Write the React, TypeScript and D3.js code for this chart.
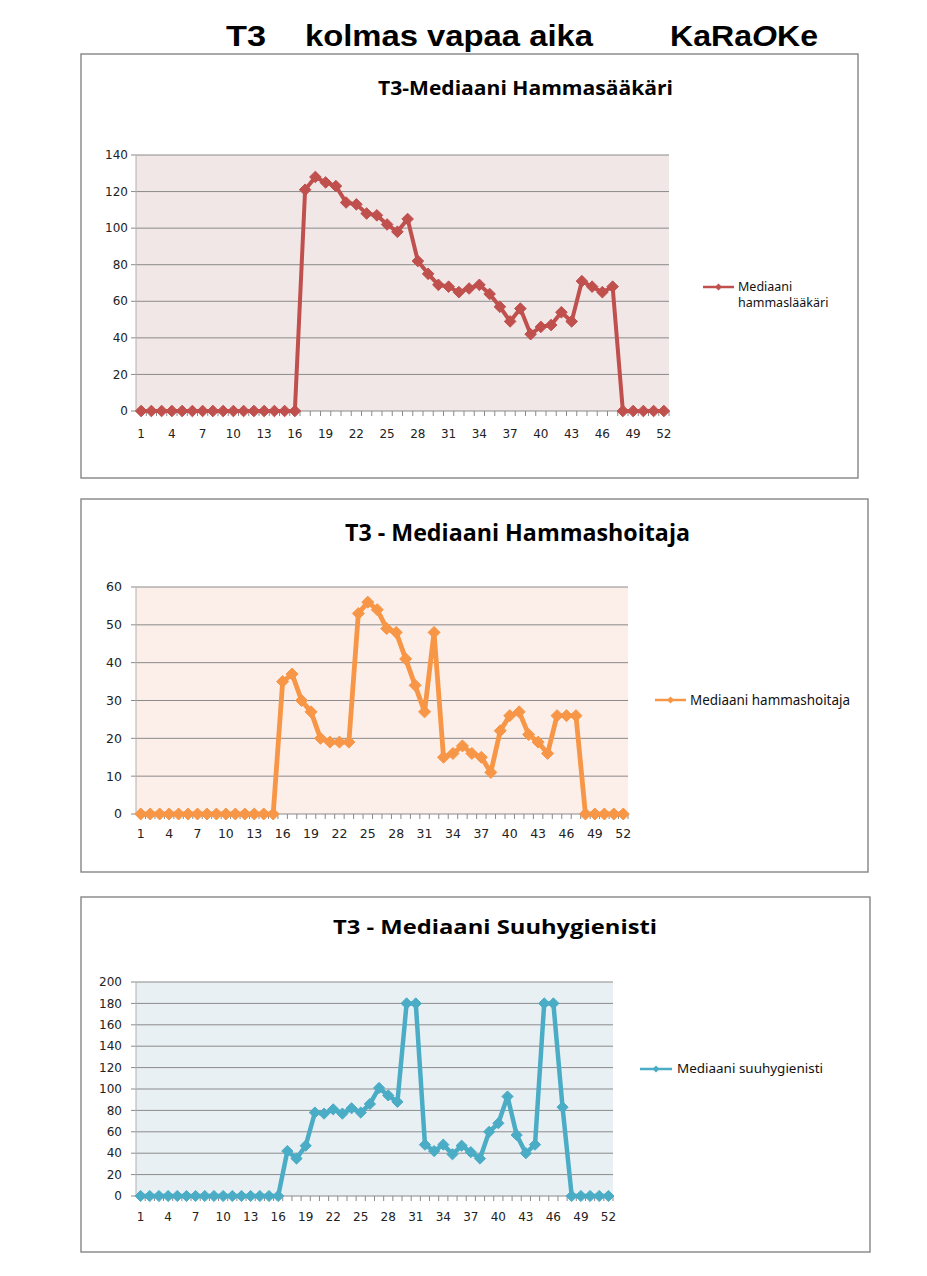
import React from "react";
import * as d3 from "d3";

const WEEKS = [
  1, 2, 3, 4, 5, 6, 7, 8, 9, 10, 11, 12, 13, 14, 15, 16, 17, 18, 19, 20, 21, 22, 23, 24, 25, 26,
  27, 28, 29, 30, 31, 32, 33, 34, 35, 36, 37, 38, 39, 40, 41, 42, 43, 44, 45, 46, 47, 48, 49, 50, 51, 52,
];
const X_TICK_LABELS = [1, 4, 7, 10, 13, 16, 19, 22, 25, 28, 31, 34, 37, 40, 43, 46, 49, 52];

const HAMMASLAAKARI = [
  0, 0, 0, 0, 0, 0, 0, 0, 0, 0, 0, 0, 0, 0, 0, 0,
  121, 128, 125, 123, 114, 113, 108, 107, 102, 98, 105, 82, 75, 69, 68, 65, 67, 69, 64, 57, 49, 56,
  42, 46, 47, 54, 49, 71, 68, 65, 68,
  0, 0, 0, 0, 0,
];
const HAMMASHOITAJA = [
  0, 0, 0, 0, 0, 0, 0, 0, 0, 0, 0, 0, 0, 0, 0,
  35, 37, 30, 27, 20, 19, 19, 19, 53, 56, 54, 49, 48, 41, 34, 27, 48, 15, 16, 18, 16, 15, 11, 22,
  26, 27, 21, 19, 16, 26, 26, 26,
  0, 0, 0, 0, 0,
];
const SUUHYGIENISTI = [
  0, 0, 0, 0, 0, 0, 0, 0, 0, 0, 0, 0, 0, 0, 0, 0,
  42, 35, 47, 78, 77, 81, 77, 82, 78, 86, 101, 94, 88, 180, 180, 48, 42, 48, 39, 47, 41, 35, 60, 68,
  93, 57, 40, 48, 180, 180, 83,
  0, 0, 0, 0, 0,
];

const Y_TICKS_1 = [0, 20, 40, 60, 80, 100, 120, 140];
const Y_TICKS_2 = [0, 10, 20, 30, 40, 50, 60];
const Y_TICKS_3 = [0, 20, 40, 60, 80, 100, 120, 140, 160, 180, 200];

type ChartProps = {
  frame: [number, number, number, number];
  plot: [number, number, number, number];
  values: number[];
  yTicks: number[];
  color: string;
  bg: string;
  title: string;
  titleX: [number, number];
  titleY: number;
  titleSize: number;
  legendLines: string[];
  legendLine: [number, number, number];
  legendTextX: number;
  legendTextY: number;
  legendSize: number;
  legendLen: number;
  tickSize: number;
  yLabelX: number;
  xLabelY: number;
  strokeW: number;
  markerR: number;
};

function Chart(p: ChartProps) {
  const [fx, fy, fw, fh] = p.frame;
  const [px0, py0, px1, py1] = p.plot;
  const x = d3.scaleBand<number>().domain(WEEKS).range([px0, px1]).padding(0);
  const bw = x.bandwidth();
  const cx = (w: number) => (x(w) as number) + bw / 2;
  const y = d3
    .scaleLinear()
    .domain([0, d3.max(p.yTicks) as number])
    .range([py1, py0]);
  const pts: [number, number][] = WEEKS.map((w, i) => [cx(w), y(p.values[i])]);
  const line = d3.line<[number, number]>()(pts) || "";
  const r = p.markerR;
  const diamond = (px: number, py: number, rr: number) =>
    `M${px},${py - rr}L${px + rr},${py}L${px},${py + rr}L${px - rr},${py}Z`;
  const [lx0, lx1, ly] = p.legendLine;
  return (
    <g>
      <rect x={fx} y={fy} width={fw} height={fh} fill="#fff" stroke="#858585" strokeWidth={1.4} />
      <text
        x={p.titleX[0]}
        y={p.titleY}
        fontFamily="'Open Sans', 'Noto Sans', sans-serif"
        fontWeight="bold"
        fontSize={p.titleSize}
        textLength={p.titleX[1] - p.titleX[0]}
        lengthAdjust="spacingAndGlyphs"
        fill="#000"
      >
        {p.title}
      </text>
      <rect x={px0} y={py0} width={px1 - px0} height={py1 - py0} fill={p.bg} />
      {p.yTicks.map((t) => (
        <g key={t}>
          <line x1={px0 - 5} x2={px1} y1={y(t)} y2={y(t)} stroke="#8a8a8a" strokeWidth={1} />
          <text
            x={p.yLabelX}
            y={y(t)}
            dy="0.35em"
            textAnchor="end"
            fontFamily="'DejaVu Sans', sans-serif"
            fontSize={p.tickSize}
            fill="#222"
          >
            {t}
          </text>
        </g>
      ))}
      <line x1={px0} x2={px0} y1={py0} y2={py1} stroke="#b0b0b0" strokeWidth={1} />
      {WEEKS.map((w) => (
        <line key={w} x1={(x(w) as number) + bw} x2={(x(w) as number) + bw} y1={py1} y2={py1 + 5} stroke="#8a8a8a" strokeWidth={1} />
      ))}
      {X_TICK_LABELS.map((w) => (
        <text
          key={w}
          x={cx(w)}
          y={p.xLabelY}
          textAnchor="middle"
          fontFamily="'DejaVu Sans', sans-serif"
          fontSize={p.tickSize}
          fill="#222"
        >
          {w}
        </text>
      ))}
      <path d={line} fill="none" stroke={p.color} strokeWidth={p.strokeW} strokeLinejoin="round" />
      {pts.map(([a, b], i) => (
        <path key={i} d={diamond(a, b, r)} fill={p.color} stroke={p.color} strokeWidth={1} strokeLinejoin="round" />
      ))}
      <line x1={lx0} x2={lx1} y1={ly} y2={ly} stroke={p.color} strokeWidth={2.5} />
      <path d={diamond((lx0 + lx1) / 2, ly, 3.5)} fill={p.color} />
      {p.legendLines.map((s, i) => (
        <text
          key={i}
          x={p.legendTextX}
          y={p.legendTextY + i * 16}
          fontFamily="'Noto Sans', sans-serif"
          fontSize={p.legendSize}
          fill="#111"
          textLength={i === 0 && p.legendLines.length === 1 ? p.legendLen : undefined}
          lengthAdjust="spacingAndGlyphs"
        >
          {s}
        </text>
      ))}
    </g>
  );
}

export default function App() {
  return (
    <svg
      width={927}
      height={1276}
      style={{ position: "absolute", left: 0, top: 0, background: "#fff" }}
    >
      <g fontFamily="'Liberation Sans', Arial, sans-serif" fontWeight="bold" fontSize={29} fill="#000">
        <text x={226} y={46} textLength={40} lengthAdjust="spacingAndGlyphs">T3</text>
        <text x={305} y={46} textLength={288} lengthAdjust="spacingAndGlyphs">kolmas vapaa aika</text>
        <text x={670} y={46} textLength={148} lengthAdjust="spacingAndGlyphs">
          KaRa<tspan fontStyle="italic">O</tspan>Ke
        </text>
      </g>
      <Chart
        frame={[81, 54, 777, 424]}
        plot={[136, 155, 669, 411]}
        values={HAMMASLAAKARI}
        yTicks={Y_TICKS_1}
        color="#C0504D"
        bg="#F2E7E7"
        title="T3-Mediaani Hammasääkäri"
        titleX={[378, 673]}
        titleY={95}
        titleSize={20}
        legendLines={["Mediaani", "hammaslääkäri"]}
        legendLine={[703, 734, 287]}
        legendTextX={738}
        legendTextY={291}
        legendSize={12.5}
        legendLen={0}
        tickSize={12}
        yLabelX={128}
        xLabelY={438}
        strokeW={4}
        markerR={5.8}
      />
      <Chart
        frame={[81, 499, 787, 373]}
        plot={[136, 587, 628, 814]}
        values={HAMMASHOITAJA}
        yTicks={Y_TICKS_2}
        color="#F79646"
        bg="#FCEEE9"
        title="T3 - Mediaani Hammashoitaja"
        titleX={[345, 690]}
        titleY={541}
        titleSize={24}
        legendLines={["Mediaani hammashoitaja"]}
        legendLine={[655, 686, 700]}
        legendTextX={690}
        legendTextY={705}
        legendSize={13.5}
        legendLen={160}
        tickSize={12.5}
        yLabelX={122}
        xLabelY={838}
        strokeW={4.8}
        markerR={6}
      />
      <Chart
        frame={[81, 897, 789, 355]}
        plot={[136, 982, 613, 1196]}
        values={SUUHYGIENISTI}
        yTicks={Y_TICKS_3}
        color="#4BACC6"
        bg="#E9F0F4"
        title="T3 - Mediaani Suuhygienisti"
        titleX={[333, 657]}
        titleY={934}
        titleSize={20}
        legendLines={["Mediaani suuhygienisti"]}
        legendLine={[640, 672, 1069]}
        legendTextX={677}
        legendTextY={1073}
        legendSize={12}
        legendLen={146}
        tickSize={12}
        yLabelX={122}
        xLabelY={1221}
        strokeW={4.5}
        markerR={5.6}
      />
    </svg>
  );
}
